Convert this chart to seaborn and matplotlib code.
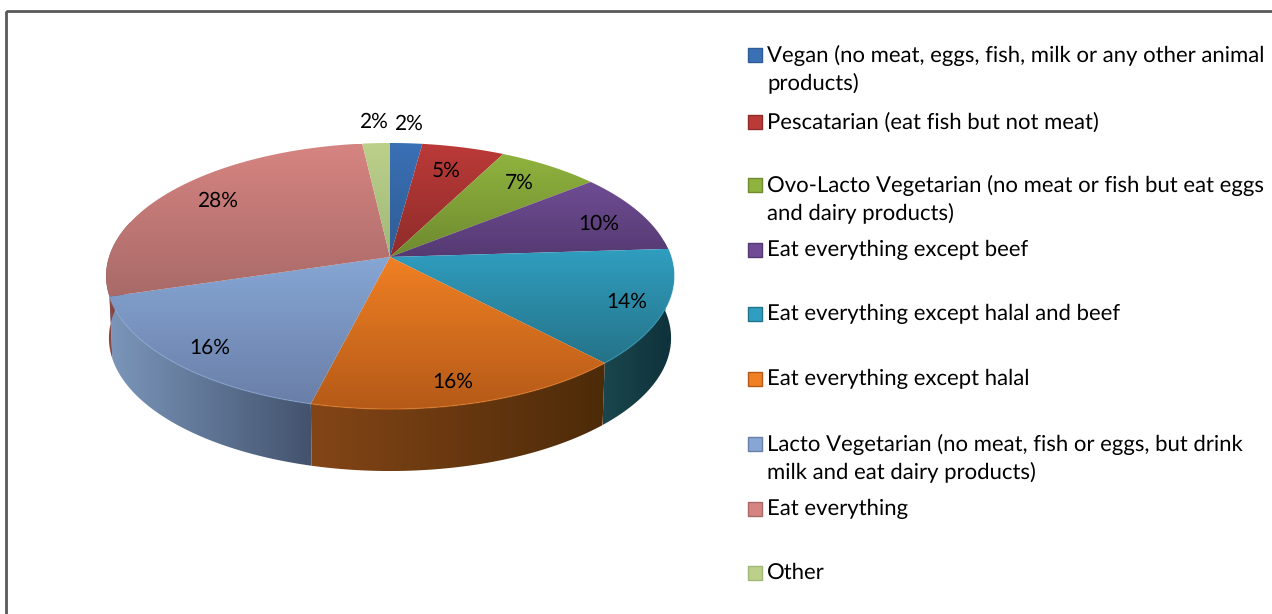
import numpy as np
import matplotlib
matplotlib.use("Agg")
import matplotlib.pyplot as plt
from matplotlib.patches import Polygon, Rectangle
import seaborn as sns

labels = ["Vegan (no meat, eggs, fish, milk or any other animal\nproducts)",
          "Pescatarian (eat fish but not meat)",
          "Ovo-Lacto Vegetarian (no meat or fish but eat eggs\nand dairy products)",
          "Eat everything except beef",
          "Eat everything except halal and beef",
          "Eat everything except halal",
          "Lacto Vegetarian (no meat, fish or eggs, but drink\nmilk and eat dairy products)",
          "Eat everything",
          "Other"]
values = [2.1, 5.4, 6.7, 9.8, 14.0, 15.9, 16.4, 27.9, 1.8]
top_light = ["#3a70b5", "#bb3a38", "#8fb33e", "#6f4c93", "#309ec0", "#f08024", "#86a6d4", "#d68481", "#bcd08a"]
top_dark = ["#2f5c94", "#8e2c2a", "#6f8a30", "#553a72", "#257388", "#b55a18", "#6a7fa8", "#a86a68", "#a0b878"]
side_left = ["#2f5c94", "#7a2624", "#5f7a2a", "#4a3263", "#1a464d", "#834516", "#7b96ba", "#8f4a48", "#8ba060"]
side_right = ["#24466f", "#5a1c1a", "#4a6020", "#38264b", "#0e313a", "#4d2b09", "#43536e", "#6f3a38", "#708048"]
legend_y = [54, 121, 184, 249, 313, 378, 443, 508, 572]
pct_pos = [(408, 124), (446, 171), (519, 183), (599, 224), (627, 302), (453, 382), (210, 348), (217, 201), (373, 122)]

sns.set_theme(style="white")
plt.rcParams["font.family"] = ["Lato", "DejaVu Sans"]
plt.rcParams["text.hinting"] = "none"

W, H = 1272, 614
fig = plt.figure(figsize=(W / 100, H / 100), dpi=100)
ax = fig.add_axes([0, 0, 1, 1])
ax.set_xlim(0, W)
ax.set_ylim(H, 0)
ax.axis("off")

cx, cy = 390, 257
depth = 62
k, a, c = 0.1429, 130.3, 281


# perspective of the disc, angle 0 = top, clockwise
def rim(theta, shift=0, scale=1.0):
    u, v = np.sin(theta), np.cos(theta)
    w = 1 + k * v
    return cx + scale * c * u / w, cy - a * v / w + shift


def gradient(poly, col1, col2, box, horizontal=False):
    n = 64
    t = np.linspace(0, 1, n)
    c1 = np.array(matplotlib.colors.to_rgb(col1))
    c2 = np.array(matplotlib.colors.to_rgb(col2))
    img = c1[None, :] * (1 - t[:, None]) + c2[None, :] * t[:, None]
    img = img[None, :, :] if horizontal else img[:, None, :]
    im = ax.imshow(img, extent=box, aspect="auto", zorder=poly.get_zorder(), interpolation="bilinear")
    ax.add_patch(poly)
    poly.set_facecolor("none")
    poly.set_edgecolor("none")
    im.set_clip_path(poly)


edges = np.cumsum([0] + values) / 100 * 2 * np.pi

# walls, only the front part of the rim shows
for i in range(len(values)):
    lo = max(edges[i], np.pi / 2 - 0.12)
    hi = min(edges[i + 1], 3 * np.pi / 2 + 0.28)
    if hi <= lo:
        continue
    th = np.linspace(lo, hi, 120)
    x1, y1 = rim(th)
    x2, y2 = rim(th, depth, 0.99)
    pts = np.r_[np.c_[x1, y1], np.c_[x2, y2][::-1]]
    box = (pts[:, 0].min(), pts[:, 0].max(), pts[:, 1].max(), pts[:, 1].min())
    gradient(Polygon(pts, zorder=2), side_left[i], side_right[i], box, horizontal=True)

# top face
for i in range(len(values)):
    th = np.linspace(edges[i], edges[i + 1], 120)
    x, y = rim(th)
    pts = np.r_[[[cx, cy]], np.c_[x, y]]
    box = (pts[:, 0].min(), pts[:, 0].max(), pts[:, 1].max(), pts[:, 1].min())
    gradient(Polygon(pts, zorder=3), top_light[i], top_dark[i], box)
    # light edge on the front slices only
    if i in (4, 5, 6):
        ax.plot(x, y, color=top_light[i], lw=1.0, alpha=0.5, zorder=4)

for v, (px, py) in zip(values, pct_pos):
    ax.text(px, py, f"{v:.0f}%", ha="center", va="center", fontsize=15, color="black", zorder=5)

# legend
for lab, ly, col, col2 in zip(labels, legend_y, top_light, top_dark):
    ax.scatter([755], [ly + 1], marker="s", s=100, color=col, edgecolors=col2, linewidths=1, zorder=5)
    ax.text(767, ly - 9, lab, ha="left", va="top", fontsize=15.9, color="black", linespacing=1.38, zorder=5)

ax.add_patch(Rectangle((6, 11), W, H, fill=False, ec="#595959", lw=2, zorder=6))
ax.set_xlim(0, W)
ax.set_ylim(H, 0)

fig.savefig("out.png", dpi=100)
